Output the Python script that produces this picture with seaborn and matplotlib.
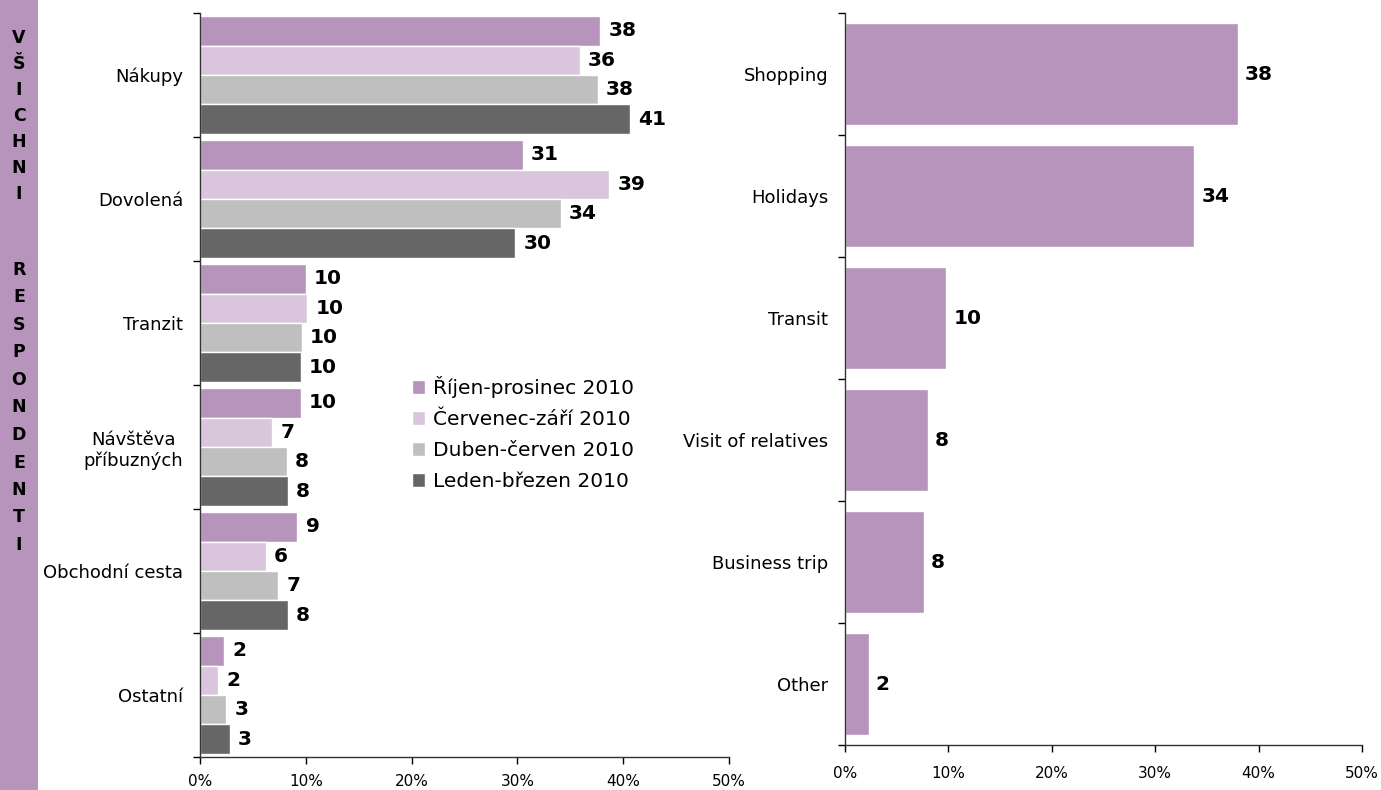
import pandas as pd
import matplotlib.pyplot as plt
import seaborn as sns

# --- data ---
categories_cz = ["Nákupy", "Dovolená", "Tranzit", "Návštěva\npříbuzných", "Obchodní cesta", "Ostatní"]
periods = ["Říjen-prosinec 2010", "Červenec-září 2010", "Duben-červen 2010", "Leden-březen 2010"]
values_q4 = [37.8, 30.5, 10.0, 9.5, 9.2, 2.3]
values_q3 = [35.9, 38.7, 10.1, 6.8, 6.2, 1.7]
values_q2 = [37.6, 34.1, 9.6, 8.2, 7.4, 2.5]
values_q1 = [40.6, 29.8, 9.5, 8.3, 8.3, 2.8]
labels_q4 = [38, 31, 10, 10, 9, 2]
labels_q3 = [36, 39, 10, 7, 6, 2]
labels_q2 = [38, 34, 10, 8, 7, 3]
labels_q1 = [41, 30, 10, 8, 8, 3]

categories_en = ["Shopping", "Holidays", "Transit", "Visit of relatives", "Business trip", "Other"]
values_en = [38.0, 33.8, 9.8, 8.0, 7.6, 2.3]
labels_en = [38, 34, 10, 8, 8, 2]

x_ticks = [0, 10, 20, 30, 40, 50]
side_words = ["VŠICHNI", "RESPONDENTI"]

colors = ["#B794BC", "#D9C6DC", "#BFBFBF", "#666666"]

sns.set_style("white")
plt.rcParams['font.family'] = ['DejaVu Sans']
plt.rcParams['text.color'] = 'black'
plt.rcParams['xtick.color'] = 'black'
plt.rcParams['ytick.color'] = 'black'
plt.rcParams['axes.labelcolor'] = 'black'

# long-form table for the grouped chart
rows = []
for period, vals in zip(periods, [values_q4, values_q3, values_q2, values_q1]):
    for cat, v in zip(categories_cz, vals):
        rows.append({"Category": cat, "Period": period, "Value": v})
df = pd.DataFrame(rows)
df_en = pd.DataFrame({"Category": categories_en, "Value": values_en})

fig = plt.figure(figsize=(13.81, 7.90), dpi=100)
ax1 = fig.add_axes([200 / 1381, 1 - 757 / 790, 529 / 1381, 744 / 790])
ax2 = fig.add_axes([845 / 1381, 1 - 745 / 790, 517 / 1381, 732 / 790])

# left purple strip with the vertical caption
fig.patches.append(plt.Rectangle((0, 0), 38 / 1381, 1, transform=fig.transFigure,
                                 facecolor="#B794BC", edgecolor="none", zorder=0))
for word, y0, step in zip(side_words, [38, 270], [26, 27.5]):
    for i, ch in enumerate(word):
        fig.text(19 / 1381, 1 - (y0 + i * step) / 790, ch, ha="center", va="center",
                 fontsize=12.5, fontweight="bold", color="black")

# --- left chart ---
sns.barplot(data=df, y="Category", x="Value", hue="Period", orient="h",
            palette=colors, width=0.95, edgecolor="white", linewidth=1,
            saturation=1, ax=ax1)
for cont, labs in zip(ax1.containers, [labels_q4, labels_q3, labels_q2, labels_q1]):
    ax1.bar_label(cont, labels=[str(l) for l in labs], padding=6,
                  fontsize=14.5, fontweight="bold")

# --- right chart ---
sns.barplot(data=df_en, y="Category", x="Value", orient="h", color=colors[0],
            width=0.83, saturation=1, edgecolor="white", linewidth=1, ax=ax2)
ax2.bar_label(ax2.containers[0], labels=[str(l) for l in labels_en], padding=5,
              fontsize=14.5, fontweight="bold")

for ax, cats in [(ax1, categories_cz), (ax2, categories_en)]:
    n = len(cats)
    ax.set_xlim(0, 50)
    ax.set_ylim(n - 0.5, -0.5)
    ax.set_xticks(x_ticks)
    ax.set_xticklabels([f"{t}%" for t in x_ticks], fontsize=11)
    ax.set_yticks([i - 0.5 for i in range(n + 1)])
    ax.set_yticklabels([])
    ax.set_yticks(range(n), minor=True)
    ax.set_yticklabels(cats, minor=True, fontsize=13, ha="right", multialignment="center")
    ax.tick_params(axis="y", which="minor", length=0, pad=12)
    ax.tick_params(axis="y", which="major", length=5, width=1, direction="out", left=True)
    ax.tick_params(axis="x", length=5, width=1, direction="out", bottom=True, pad=7)
    ax.set_xlabel("")
    ax.set_ylabel("")
    for s in ["top", "right"]:
        ax.spines[s].set_visible(False)
    for s in ["left", "bottom"]:
        ax.spines[s].set_color("#333333")
        ax.spines[s].set_linewidth(1)

ax2.tick_params(axis="x", pad=10)

handles, labels = ax1.get_legend_handles_labels()
ax1.legend(handles, labels, loc="upper left", bbox_to_anchor=(400 / 1381, 1 - 364 / 790),
           bbox_transform=fig.transFigure, frameon=False, fontsize=14.5,
           handlelength=0.65, handleheight=0.72, handletextpad=0.38, labelspacing=0.6,
           borderpad=0.1)

fig.savefig("out.png", dpi=100)
